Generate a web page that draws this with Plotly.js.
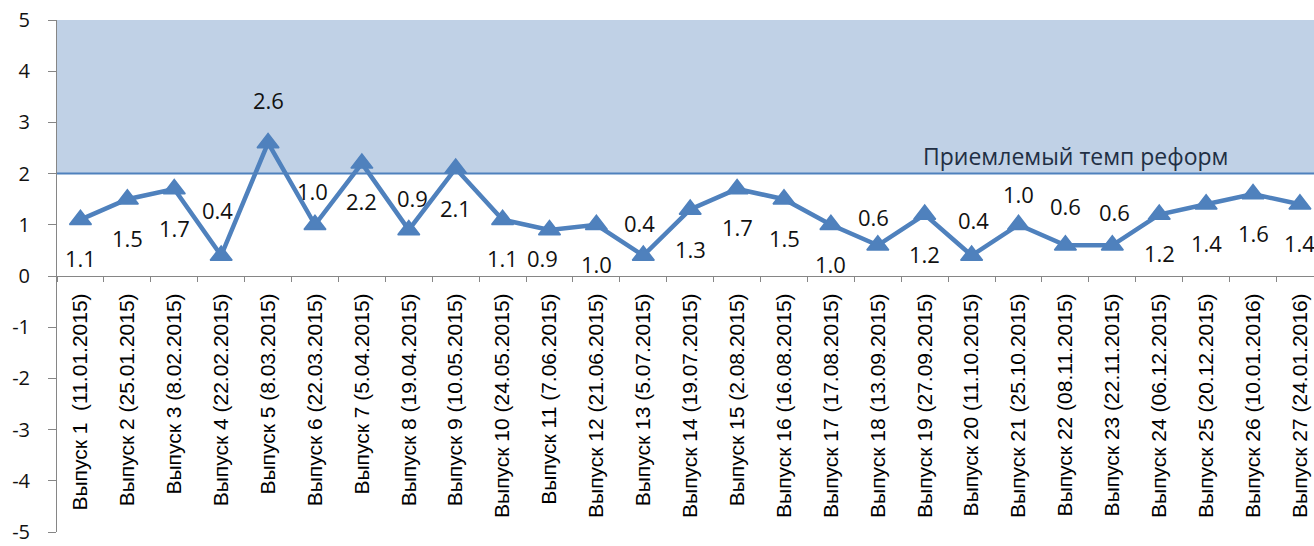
<!DOCTYPE html>
<html>
<head>
<meta charset="utf-8">
<script src="https://cdn.plot.ly/plotly-3.0.1.min.js"></script>
<style>html,body{margin:0;padding:0;background:#fff;overflow:hidden;}</style>
</head>
<body>
<div id="chart" style="width:1314px;height:546px;"></div>
<script>
const categories = [
  'Выпуск 1  (11.01.2015)','Выпуск 2 (25.01.2015)','Выпуск 3 (8.02.2015)','Выпуск 4 (22.02.2015)',
  'Выпуск 5 (8.03.2015)','Выпуск 6 (22.03.2015)','Выпуск 7 (5.04.2015)','Выпуск 8 (19.04.2015)',
  'Выпуск 9 (10.05.2015)','Выпуск 10 (24.05.2015)','Выпуск 11 (7.06.2015)','Выпуск 12 (21.06.2015)',
  'Выпуск 13 (5.07.2015)','Выпуск 14 (19.07.2015)','Выпуск 15 (2.08.2015)','Выпуск 16 (16.08.2015)',
  'Выпуск 17 (17.08.2015)','Выпуск 18 (13.09.2015)','Выпуск 19 (27.09.2015)','Выпуск 20 (11.10.2015)',
  'Выпуск 21 (25.10.2015)','Выпуск 22 (08.11.2015)','Выпуск 23 (22.11.2015)','Выпуск 24 (06.12.2015)',
  'Выпуск 25 (20.12.2015)','Выпуск 26 (10.01.2016)','Выпуск 27 (24.01.2016)'
];
const values = [1.1,1.5,1.7,0.4,2.6,1.0,2.2,0.9,2.1,1.1,0.9,1.0,0.4,1.3,1.7,1.5,1.0,0.6,1.2,0.4,1.0,0.6,0.6,1.2,1.4,1.6,1.4];
const threshold = 2;
const thresholdLabel = 'Приемлемый темп реформ';
const yMax = 5;
const yMin = -5;
const yTicksUpper = [0,1,2,3,4,5];
const yTicksLower = [-5,-4,-3,-2,-1];

// label offsets in pixels (style only)
const labelYShift = [-38,-39,-39,46,43,34,-38,32,-40,-38,-28,-39,33,-40,-38,-39,-39,28,-39,36,31,39,33,-38,-39,-39,-39];
const labelXShift = [0,0,0,-4,0,-2,0,4,0,0,-7,0,-4,0,0,0,0,-4,0,2,0,0,2,0,0,0,0];

const blue = '#4f81bd';
const axisGray = '#868686';

const traces = [
  {
    x: categories, y: values, type: 'scatter', mode: 'lines+markers',
    line: {color: blue, width: 4.5},
    marker: {symbol: 'triangle-up', size: 19, color: blue, line: {color: blue, width: 1.5}},
    hoverinfo: 'skip', showlegend: false, cliponaxis: false
  },
  {x: [], y: [], xaxis: 'x', yaxis: 'y2', type: 'scatter', showlegend: false, hoverinfo: 'skip'}
];

const annotations = values.map((v, i) => ({
  x: categories[i], y: v, xref: 'x', yref: 'y',
  text: v.toFixed(1), showarrow: false,
  yshift: labelYShift[i], xshift: labelXShift[i],
  font: {family: 'Open Sans', size: 22, color: '#111'}
}));
annotations.push({
  x: 0.811, xref: 'paper', xanchor: 'center', y: threshold, yref: 'y', yanchor: 'bottom', yshift: 0,
  text: thresholdLabel, showarrow: false,
  font: {family: 'Open Sans', size: 23, color: '#1f2f44'}
});

const tickFont = {family: 'Open Sans', size: 20, color: '#111'};

const layout = {
  width: 1314, height: 546,
  margin: {l: 57, r: 0, t: 20, b: 14},
  paper_bgcolor: '#fff', plot_bgcolor: 'rgba(0,0,0,0)',
  showlegend: false,
  xaxis: {
    type: 'category', range: [-0.5, 26.3], anchor: 'y',
    showline: true, linecolor: axisGray, linewidth: 1,
    ticks: 'outside', tickson: 'boundaries', ticklen: 5, tickcolor: axisGray,
    tickangle: -90, ticklabelstandoff: 8,
    tickfont: {family: 'Liberation Sans', size: 21, color: '#000'},
    showgrid: false, zeroline: false, fixedrange: true
  },
  yaxis: {
    domain: [0.5, 1], range: [0, yMax], anchor: 'x',
    tickmode: 'array', tickvals: yTicksUpper, ticktext: yTicksUpper.map(String),
    showline: true, linecolor: axisGray, ticks: 'outside', ticklen: 8, tickcolor: axisGray,
    ticklabelstandoff: 14, ticklabeloverflow: 'allow', tickfont: tickFont,
    showgrid: false, zeroline: false, fixedrange: true
  },
  yaxis2: {
    domain: [0, 0.5], range: [yMin, 0], anchor: 'x',
    tickmode: 'array', tickvals: yTicksLower, ticktext: yTicksLower.map(String),
    showline: true, linecolor: axisGray, ticks: 'outside', ticklen: 8, tickcolor: axisGray,
    ticklabelstandoff: 14, ticklabeloverflow: 'allow', tickfont: tickFont,
    showgrid: false, zeroline: false, fixedrange: true
  },
  shapes: [
    {type: 'rect', xref: 'paper', x0: 0, x1: 1, yref: 'y', y0: threshold, y1: yMax,
     fillcolor: '#c0d1e6', line: {width: 0}, layer: 'below'},
    {type: 'line', xref: 'paper', x0: 0, x1: 1, yref: 'y', y0: threshold, y1: threshold,
     line: {color: blue, width: 2}, layer: 'below'}
  ],
  annotations: annotations
};

Plotly.newPlot('chart', traces, layout, {displayModeBar: false, staticPlot: true});
</script>
</body>
</html>
